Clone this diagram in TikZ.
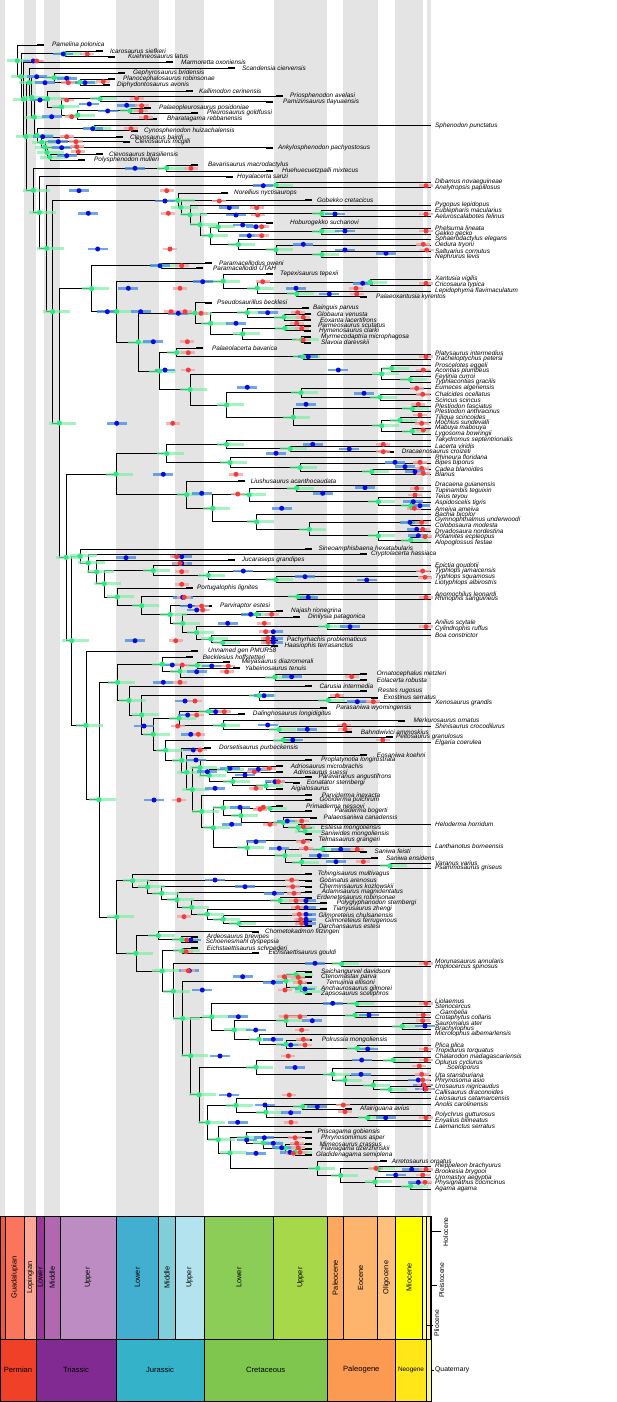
\documentclass[tikz,border=0pt]{standalone}
\usepackage{fontspec}
\setmainfont{Liberation Sans}
\usetikzlibrary{calc}
\definecolor{stripe}{HTML}{E4E4E4}
\definecolor{gdotc}{HTML}{2EE884}
\definecolor{gbarc}{HTML}{7DF0A6}
\definecolor{bdotc}{HTML}{0A0ADC}
\definecolor{bbarc}{HTML}{4A90E2}
\definecolor{rdotc}{HTML}{F23C3C}
\definecolor{rbarc}{HTML}{F5A3A3}
\definecolor{cisu}{HTML}{EF5845}
\definecolor{guad}{HTML}{FB745C}
\definecolor{loping}{HTML}{FBA794}
\definecolor{trL}{HTML}{983999}
\definecolor{trM}{HTML}{B168B1}
\definecolor{trU}{HTML}{BD8CC3}
\definecolor{juL}{HTML}{42AED0}
\definecolor{juM}{HTML}{80CFD8}
\definecolor{juU}{HTML}{B3E3EE}
\definecolor{krL}{HTML}{8CCD57}
\definecolor{krU}{HTML}{A6D84A}
\definecolor{paleoc}{HTML}{FDA75F}
\definecolor{eoc}{HTML}{FDB46C}
\definecolor{olig}{HTML}{FEC07A}
\definecolor{mioc}{HTML}{FFFF00}
\definecolor{plioc}{HTML}{FFFF99}
\definecolor{pleist}{HTML}{FFF2AE}
\definecolor{holo}{HTML}{FEF2E0}
\definecolor{perm}{HTML}{F04028}
\definecolor{tria}{HTML}{812B92}
\definecolor{jura}{HTML}{34B2C9}
\definecolor{creta}{HTML}{7FC64E}
\definecolor{paleog}{HTML}{FD9A52}
\definecolor{neog}{HTML}{FFE619}
\definecolor{quat}{HTML}{F9F97F}
\tikzset{
  br/.style={line width=0.75pt, black},
  fbar/.style={line width=2.2pt, black},
  lab/.style={anchor=west, inner sep=0pt, font=\fontsize{6.4}{7}\selectfont\itshape},
  gbar/.style={line width=3pt, gbarc, opacity=0.7},
  bbar/.style={line width=2.6pt, bbarc, opacity=0.8},
  rbar/.style={line width=2.6pt, rbarc, opacity=0.8},
  tsbox/.style={draw=black, line width=0.6pt},
  eplab/.style={rotate=90, inner sep=0pt, font=\fontsize{7.4}{8}\selectfont},
  perlab/.style={inner sep=0pt, font=\fontsize{7.6}{8}\selectfont},
  sidelab/.style={inner sep=0pt, font=\fontsize{6.8}{7}\selectfont}
}
\newcommand\ft[5]{\coordinate (t#1) at (#2,#3); \draw[fbar] (t#1) -- ++(-7,0); \node[lab] (L#1) at (#4,#3) {#5};}
\newcommand\et[3]{\coordinate (t#1) at (431,#2); \node[lab] (L#1) at (435,#2) {#3};}
\newcommand\etx[4]{\coordinate (t#1) at (431,#2); \node[lab] (L#1) at (#3,#2) {#4};}
\newcommand\nd[4]{\path let \p1=($(#3)!.5!(#4)$) in (#2pt,\y1) coordinate (n#1); \draw[br] (n#1) |- (#3); \draw[br] (n#1) |- (#4);}
\begin{document}
\begin{tikzpicture}[x=1pt,y=-1pt]
\useasboundingbox (0,0) rectangle (617,1402);
\fill[white] (0,0) rectangle (617,1402);
% background stripes
\foreach \xa/\xb in {0/5, 24.3/36, 44.3/60, 116/158.7, 175.3/204, 273.7/327.3, 343.3/377.7, 395.3/422.7, 426.7/431}
  {\fill[stripe] (\xa,0) rectangle (\xb,1216);}
% tips
\ft{1}{44}{45}{52}{Pamelina polonica}
\ft{2}{103}{51}{110}{Icarosaurus siefkeri}
\ft{3}{115}{56.7}{128}{Kuehneosaurus latus}
\ft{4}{172.7}{62}{181}{Marmoretta oxoniensis}
\ft{5}{235}{68}{242}{Scandensia ciervensis}
\ft{6}{125}{73.3}{133}{Gephyrosaurus bridensis}
\ft{7}{115}{79.3}{123}{Planocephalosaurus robinsonae}
\ft{8}{110}{85}{117}{Diphydontosaurus avonis}
\ft{9}{192.7}{91}{199}{Kallimodon cerinensis}
\ft{10}{283}{96}{290}{Priosphenodon avelasi}
\ft{11}{273}{101.7}{283}{Pamizinsaurus tlayuaensis}
\ft{12}{151}{108.3}{159}{Palaeopleurosaurus posidoniae}
\ft{13}{198}{113.3}{207}{Pleurosaurus goldfussi}
\ft{14}{157}{119.3}{167}{Bharatagama rebbanensis}
\et{15}{125.7}{Sphenodon punctatus}
\ft{16}{137.7}{130.7}{144}{Cynosphenodon huizachalensis}
\ft{17}{123}{137.3}{130}{Clevosaurus bairdi}
\ft{18}{130}{141.7}{135}{Clevosaurus mcgilli}
\ft{19}{273}{147.7}{278}{Ankylosphenodon pachyostosus}
\ft{20}{103}{154.3}{109}{Clevosaurus brasiliensis}
\ft{21}{85}{160}{94}{Polysphenodon mulleri}
\ft{22}{198}{165}{208}{Bavarisaurus macrodactylus}
\ft{23}{273}{171}{282}{Huehuecuetzpalli mixtecus}
\ft{24}{233}{176.7}{237}{Hoyalacerta sanzi}
\et{25}{182.3}{Dibamus novaeguineae}
\et{26}{187.7}{Anelytropsis papillosus}
\ft{27}{228}{193.3}{234}{Norellius nyctisaurops}
\ft{28}{312}{200}{317}{Gobekko cretacicus}
\et{29}{205}{Pygopus lepidopus}
\et{30}{210.7}{Eublepharis macularius}
\et{31}{216.7}{Aeluroscalabotes felinus}
\ft{32}{273}{222.7}{290}{Hoburogekko suchanovi}
\et{33}{228.3}{Phelsuma lineata}
\et{34}{234}{Gekko gecko}
\et{35}{239.3}{Sphaerodactylus elegans}
\et{36}{245}{Oedura tryoni}
\et{37}{251.7}{Saltuarius cornutus}
\et{38}{257.3}{Nephrurus levis}
\ft{39}{211.7}{263.3}{219}{Paramacellodus oweni}
\ft{40}{203.3}{268.3}{213}{Paramacellodid UTAH}
\ft{41}{273}{274}{280}{Tepexisaurus tepexii}
\et{42}{279.3}{Xantusia vigilis}
\et{43}{285}{Cricosaura typica}
\et{44}{291}{Lepidophyma flavimaculatum}
\ft{45}{366.7}{296.7}{376}{Palaeoxantusia kyrentos}
\ft{46}{211.7}{302.7}{217}{Pseudosaurillus becklesi}
\ft{47}{309}{308.3}{313}{Bainguis parvus}
\ft{48}{311}{314}{317}{Globaura venusta}
\ft{49}{311}{320}{320}{Eoxanta lacertifrons}
\ft{50}{311}{325.7}{318}{Parmeosaurus scutatus}
\ft{51}{311}{330.7}{319}{Hymenosaurus clarki}
\ft{52}{311}{336.7}{321}{Myrmecodaptria microphagosa}
\ft{53}{311}{342.7}{321}{Slavoia darevskii}
\ft{54}{203.3}{348.3}{212}{Palaeolacerta bavarica}
\et{55}{354.3}{Platysaurus intermedius}
\et{56}{359.3}{Tracheloptychus petersi}
\et{57}{365.7}{Proscelotes eggeli}
\et{58}{371}{Acontias plumbeus}
\et{59}{376.7}{Feylinia curroi}
\et{60}{382.3}{Typhlacontias gracilis}
\et{61}{388.3}{Eumeces algeriensis}
\et{62}{394.3}{Chalcides ocellatus}
\et{63}{400}{Scincus scincus}
\et{64}{406}{Plestiodon fasciatus}
\et{65}{411.7}{Plestiodon anthracinus}
\et{66}{417.7}{Tiliqua scincoides}
\et{67}{422.7}{Mochlus sundevalli}
\et{68}{428.3}{Mabuya mabouya}
\et{69}{434}{Lygosoma bowringii}
\et{70}{440}{Takydromus septentrionalis}
\et{71}{446}{Lacerta viridis}
\ft{72}{394.3}{451.7}{401.7}{Dracaenosaurus croizeti}
\et{73}{457.7}{Rhineura floridana}
\et{74}{463.3}{Bipes biporus}
\et{75}{469}{Cadea blanoides}
\et{76}{474.3}{Blanus}
\ft{77}{245}{481}{250.7}{Liushusaurus acanthocaudata}
\et{78}{485}{Dracaena guianensis}
\et{79}{491}{Tupinambis teguixin}
\et{80}{497.3}{Teius teyou}
\et{81}{502.7}{Aspidoscelis tigris}
\et{82}{509}{Ameiva ameiva}
\et{83}{514.3}{Bachia bicolor}
\et{84}{520}{Gymnophthalmus underwoodi}
\et{85}{525.7}{Colobosaura modesta}
\et{86}{531.7}{Dryadosaura nordestina}
\et{87}{537.3}{Potamites ecpleopus}
\et{88}{542.7}{Alopoglossus festae}
\ft{89}{311.7}{549}{318.3}{Sineoamphisbaena hexatabularis}
\ft{90}{366.7}{554}{371}{Cryptolacerta hassiaca}
\ft{91}{235}{560}{241.7}{Jucaraseps grandipes}
\et{92}{565.7}{Epictia goudotii}
\et{93}{571}{Typhlops jamaicensis}
\et{94}{576.7}{Typhlops squamosus}
\et{95}{582.7}{Liotyphlops albirostris}
\ft{96}{192.7}{588.3}{197}{Portugalophis lignites}
\et{97}{594.3}{Anomochilus leonardi}
\et{98}{599.3}{Rhinophis sanguineus}
\ft{99}{211.7}{605.7}{220}{Parviraptor estesi}
\ft{100}{283}{611}{291}{Najash rionegrina}
\ft{101}{300}{617.3}{308}{Dinilysia patagonica}
\et{102}{623.3}{Anilius scytale}
\et{103}{629}{Cylindrophis ruffus}
\et{104}{635}{Boa constrictor}
\ft{105}{278.3}{640}{286.7}{Pachyrhachis problematicus}
\ft{106}{278.3}{645.7}{284.3}{Haasiophis terrasanctus}
\ft{107}{198.3}{651}{208}{Unnamed gen PMUR58}
\ft{108}{192.7}{657.3}{202.7}{Becklesius hoffstetteri}
\ft{109}{230}{662.3}{241.7}{Meyasaurus diazromerali}
\ft{110}{240}{668.3}{245}{Yabeinosaurus tenuis}
\ft{111}{366.7}{674}{376.7}{Ornatocephalus metzleri}
\ft{112}{366.7}{680}{376.7}{Eolacerta robusta}
\ft{113}{311.7}{686}{319.3}{Carusia intermedia}
\ft{114}{366.7}{691}{377.7}{Restes rugosus}
\ft{115}{378}{697.7}{383.3}{Exostinus serratus}
\et{116}{702.7}{Xenosaurus grandis}
\ft{117}{327.3}{708.3}{336}{Parasaniwa wyomingensis}
\ft{118}{245}{714.3}{252.7}{Dalinghosaurus longidigitus}
\ft{119}{405}{720.7}{413.3}{Merkurosaurus ornatus}
\et{120}{726.7}{Shinisaurus crocodilurus}
\ft{121}{351.7}{732.3}{360.7}{Bahndwivici ammoskius}
\ft{122}{393}{737.3}{396}{Peltosaurus granulosus}
\et{123}{742.7}{Elgaria coerulea}
\ft{124}{210.7}{748.3}{219}{Dorsetisaurus purbeckensis}
\ft{125}{366.7}{755}{376.7}{Eosaniwa koehni}
\ft{126}{311.7}{760}{321}{Proplatynotia longirostrata}
\ft{127}{283}{766}{290.7}{Adriosaurus microbrachis}
\ft{128}{283}{772.3}{293.3}{Adriosaurus suessi}
\ft{129}{311.7}{777.3}{318.3}{Paravaranus angustifrons}
\ft{130}{300}{782.7}{306.7}{Eonatator sternbergi}
\ft{131}{283}{789}{291}{Aigialosaurus}
\ft{132}{311.7}{795}{321.7}{Parviderma inexacta}
\ft{133}{311.7}{800}{319.3}{Gobiderma pulchrum}
\ft{134}{283}{806}{306}{Primaderma nessovi}
\ft{135}{311.7}{811}{334.3}{Paraderma bogerti}
\ft{136}{316.7}{817.7}{323.3}{Palaeosaniwa canadensis}
\et{137}{824}{Heloderma horridum}
\ft{138}{311.7}{828.3}{320.7}{Estesia mongoliensis}
\ft{139}{311.7}{834}{320.7}{Saniwides mongoliensis}
\ft{140}{311.7}{840}{318.3}{Telmasaurus grangeri}
\et{141}{846.7}{Lanthanotus borneensis}
\ft{142}{366.7}{851.7}{374.3}{Saniwa feisti}
\ft{143}{378.3}{858.3}{386}{Saniwa ensidens}
\et{144}{863.3}{Varanus varius}
\et{145}{868.3}{Psammosaurus griseus}
\ft{146}{311.7}{874.3}{317.7}{Tchingisaurus multivagus}
\ft{147}{311.7}{880.7}{319.3}{Gobinatus arenosus}
\ft{148}{311.7}{886.7}{319.3}{Cherminsaurus kozlowskii}
\ft{149}{311.7}{892.3}{321.7}{Adamisaurus magnidentatus}
\ft{150}{311.7}{897.7}{316.7}{Erdenetesaurus robinsonae}
\ft{151}{327.3}{903.3}{336.7}{Polyglyphanodon sternbergi}
\ft{152}{327.3}{909}{332.7}{Tianyusaurus zhengi}
\ft{153}{311.7}{915}{318.3}{Gilmoreteius chulsanensis}
\ft{154}{311.7}{921}{325}{Gilmoreteius ferrugenous}
\ft{155}{311.7}{926}{318.3}{Darchansaurus estesi}
\ft{156}{259.3}{931.7}{265}{Chometokadmon fitzingeri}
\ft{157}{198.3}{936.7}{206.7}{Ardeosaurus brevipes}
\ft{158}{198.3}{942.3}{205.7}{Schoenesmahl dyspepsia}
\ft{159}{198.3}{948.3}{206.7}{Eichstaettisaurus schroederi}
\ft{160}{259.3}{953.3}{268.3}{Eichstaettisaurus gouldi}
\et{161}{961}{Morunasaurus annularis}
\et{162}{966.7}{Hoplocercus spinosus}
\ft{163}{311.7}{971.7}{321}{Saichangurvel davidsoni}
\ft{164}{311.7}{977.3}{321}{Ctenomastax parva}
\ft{165}{311.7}{983.3}{326}{Temujinia ellisoni}
\ft{166}{311.7}{989}{321}{Anchaurosaurus gilmorei}
\ft{167}{311.7}{994.3}{321}{Zapsosaurus sceliphros}
\et{168}{1001}{Liolaemus}
\et{169}{1006.7}{Stenocercus}
\etx{170}{1012.3}{440}{Gambelia}
\et{171}{1017.7}{Crotaphytus collaris}
\et{172}{1023.3}{Sauromalus ater}
\et{173}{1029}{Brachylophus}
\et{174}{1034.3}{Microlophus albemarlensis}
\ft{175}{311.7}{1040}{321.7}{Polrussia mongoliensis}
\et{176}{1045.7}{Plica plica}
\et{177}{1051}{Tropidurus torquatus}
\et{178}{1057.3}{Chalarodon madagascariensis}
\et{179}{1062.7}{Oplurus cyclurus}
\etx{180}{1068.3}{447}{Sceloporus}
\et{181}{1075}{Uta stansburiana}
\et{182}{1080.7}{Phrynosoma asio}
\et{183}{1086.7}{Urosaurus nigricaudus}
\et{184}{1092.3}{Callisaurus draconoides}
\et{185}{1098.3}{Leiosaurus catamarcensis}
\et{186}{1104}{Anolis carolinensis}
\ft{187}{351.7}{1109}{360}{Afairiguana avius}
\et{188}{1115}{Polychrus gutturosus}
\et{189}{1120.7}{Enyalius bilineatus}
\et{190}{1126.7}{Laemanctus serratus}
\ft{191}{311.7}{1132.3}{317.3}{Priscagama gobiensis}
\ft{192}{311.7}{1137.7}{321}{Phrynosomimus asper}
\ft{193}{311.7}{1144}{319.3}{Mimeosaurus crassus}
\ft{194}{311.7}{1149.3}{321}{Flaviagama dzerzhinskii}
\ft{195}{311.7}{1155}{316}{Gladidenagama semiplena}
\ft{196}{386.7}{1161}{391.7}{Arretosaurus ornatus}
\et{197}{1166}{Rieppeleon brachyurus}
\et{198}{1171.7}{Brookesia brygooi}
\et{199}{1177.7}{Uromastyx aegyptia}
\et{200}{1183.3}{Physignathus cocincinus}
\et{201}{1189}{Agama agama}
% internal nodes
\nd{1}{65}{t2}{t3}
\nd{2}{80}{t7}{t8}
\nd{3}{54.3}{t6}{n2}
\nd{4}{100}{t10}{t11}
\nd{5}{130}{t12}{t13}
\nd{6}{77.7}{n5}{t14}
\nd{7}{61.7}{n4}{n6}
\nd{8}{47.7}{t9}{n7}
\nd{9}{94.3}{t15}{t16}
\nd{10}{50}{t20}{t21}
\nd{11}{47}{t19}{n10}
\nd{12}{45}{t18}{n11}
\nd{13}{41.7}{t17}{n12}
\nd{14}{37}{n9}{n13}
\nd{15}{34.3}{n8}{n14}
\nd{16}{31.7}{n3}{n15}
\nd{17}{29.3}{t5}{n16}
\nd{18}{166.7}{t22}{t23}
\nd{19}{321.7}{t30}{t31}
\nd{20}{321.7}{t33}{t34}
\nd{21}{218.3}{t32}{n20}
\nd{22}{321.7}{t37}{t38}
\nd{23}{276}{t36}{n22}
\nd{24}{238.3}{t35}{n23}
\nd{25}{210.7}{n21}{n24}
\nd{26}{200}{n19}{n25}
\nd{27}{190}{t29}{n26}
\nd{28}{181}{t28}{n27}
\nd{29}{178}{t27}{n28}
\nd{30}{276}{t25}{t26}
\nd{31}{161}{t39}{t40}
\nd{32}{370}{t42}{t43}
\nd{33}{296.7}{t44}{t45}
\nd{34}{257.3}{n32}{n33}
\nd{35}{223.3}{t41}{n34}
\nd{36}{284}{t48}{t49}
\nd{37}{247.3}{t47}{n36}
\nd{38}{285}{t50}{t51}
\nd{39}{301.7}{t52}{t53}
\nd{40}{242.7}{n38}{n39}
\nd{41}{210.7}{n37}{n40}
\nd{42}{195}{t46}{n41}
\nd{43}{303.3}{t55}{t56}
\nd{44}{176.7}{t54}{n43}
\nd{45}{391.7}{t57}{t58}
\nd{46}{410}{t59}{t60}
\nd{47}{381.7}{n45}{n46}
\nd{48}{380}{t62}{t63}
\nd{49}{301}{t61}{n48}
\nd{50}{412.3}{t64}{t65}
\nd{51}{400}{t66}{t67}
\nd{52}{412.3}{t68}{t69}
\nd{53}{381.7}{n51}{n52}
\nd{54}{293.3}{n50}{n53}
\nd{55}{226.7}{n49}{n54}
\nd{56}{190}{n47}{n55}
\nd{57}{159.3}{n44}{n56}
\nd{58}{138.3}{n42}{n57}
\nd{59}{116.7}{n35}{n58}
\nd{60}{91.7}{n31}{n59}
\nd{61}{290}{t71}{t72}
\nd{62}{226.7}{t70}{n61}
\nd{63}{371.7}{t75}{t76}
\nd{64}{300}{t74}{n63}
\nd{65}{230}{t73}{n64}
\nd{66}{166.7}{n62}{n65}
\nd{67}{296.7}{t78}{t79}
\nd{68}{410.7}{t81}{t82}
\nd{69}{378.3}{t80}{n68}
\nd{70}{249.3}{n67}{n69}
\nd{71}{410.7}{t84}{t85}
\nd{72}{410.7}{t87}{t88}
\nd{73}{378.3}{t86}{n72}
\nd{74}{309.3}{n71}{n73}
\nd{75}{256.7}{t83}{n74}
\nd{76}{212.7}{n70}{n75}
\nd{77}{186.7}{t77}{n76}
\nd{78}{116}{n66}{n77}
\nd{79}{276}{t94}{t95}
\nd{80}{208.3}{t93}{n79}
\nd{81}{153.3}{t92}{n80}
\nd{82}{297.7}{t97}{t98}
\nd{83}{256.7}{t100}{t101}
\nd{84}{327.7}{t102}{t103}
\nd{85}{222.7}{t105}{t106}
\nd{86}{211}{t104}{n85}
\nd{87}{196.7}{n84}{n86}
\nd{88}{182.7}{n83}{n87}
\nd{89}{170}{t99}{n88}
\nd{90}{141.7}{n82}{n89}
\nd{91}{117.3}{t96}{n90}
\nd{92}{104.3}{n81}{n91}
\nd{93}{96.7}{t91}{n92}
\nd{94}{88.3}{t90}{n93}
\nd{95}{80}{t89}{n94}
\nd{96}{197.3}{t109}{t110}
\nd{97}{275}{t111}{t112}
\nd{98}{180}{n96}{n97}
\nd{99}{162.3}{t108}{n98}
\nd{100}{328.3}{t115}{t116}
\nd{101}{259.3}{t114}{n100}
\nd{102}{209}{t117}{t118}
\nd{103}{279}{t120}{t121}
\nd{104}{223.3}{t119}{n103}
\nd{105}{179}{n102}{n104}
\nd{106}{283.3}{t122}{t123}
\nd{107}{227.3}{t127}{t128}
\nd{108}{266}{t130}{t131}
\nd{109}{232.7}{t129}{n108}
\nd{110}{209.3}{n107}{n109}
\nd{111}{200}{t126}{n110}
\nd{112}{270}{t134}{t135}
\nd{113}{305}{t138}{t139}
\nd{114}{298.3}{t137}{n113}
\nd{115}{283.3}{t136}{n114}
\nd{116}{241}{n112}{n115}
\nd{117}{223.3}{t133}{n116}
\nd{118}{390}{t144}{t145}
\nd{119}{301.7}{t143}{n118}
\nd{120}{322.7}{t141}{t142}
\nd{121}{285}{n120}{n119}
\nd{122}{247.3}{t140}{n121}
\nd{123}{213.3}{n117}{n122}
\nd{124}{201.7}{t132}{n123}
\nd{125}{192.3}{n111}{n124}
\nd{126}{186.7}{t125}{n125}
\nd{127}{181.7}{t124}{n126}
\nd{128}{165.7}{n106}{n127}
\nd{129}{153.3}{n105}{n128}
\nd{130}{141.7}{n101}{n129}
\nd{131}{129}{t113}{n130}
\nd{132}{117.7}{n99}{n131}
\nd{133}{239}{t154}{t155}
\nd{134}{223.3}{t153}{n133}
\nd{135}{207.3}{t152}{n134}
\nd{136}{280}{t150}{t151}
\nd{137}{191.7}{n136}{n135}
\nd{138}{177}{t149}{n137}
\nd{139}{161.7}{t148}{n138}
\nd{140}{147.7}{t147}{n139}
\nd{141}{132.7}{t146}{n140}
\nd{142}{181.7}{t157}{t158}
\nd{143}{158.3}{t156}{n142}
\nd{144}{182.7}{t159}{t160}
\nd{145}{341.7}{t161}{t162}
\nd{146}{296}{t163}{t164}
\nd{147}{305}{t166}{t167}
\nd{148}{300}{t165}{n147}
\nd{149}{286}{n146}{n148}
\nd{150}{356.7}{t168}{t169}
\nd{151}{355}{t170}{t171}
\nd{152}{402.3}{t172}{t173}
\nd{153}{286}{n151}{n152}
\nd{154}{357.3}{t176}{t177}
\nd{155}{286}{t175}{n154}
\nd{156}{259}{t174}{n155}
\nd{157}{234.3}{n153}{n156}
\nd{158}{211.7}{n150}{n157}
\nd{159}{393.3}{t178}{t179}
\nd{160}{390}{t183}{t184}
\nd{161}{373.3}{t182}{n160}
\nd{162}{345}{t181}{n161}
\nd{163}{332.7}{t180}{n162}
\nd{164}{256}{n159}{n163}
\nd{165}{302.7}{t186}{t187}
\nd{166}{367.7}{t188}{t189}
\nd{167}{266}{n165}{n166}
\nd{168}{236}{t185}{n167}
\nd{169}{295}{t194}{t195}
\nd{170}{285}{t193}{n169}
\nd{171}{263.3}{t192}{n170}
\nd{172}{246.7}{t191}{n171}
\nd{173}{378.3}{t197}{t198}
\nd{174}{410.7}{t200}{t201}
\nd{175}{375}{t199}{n174}
\nd{176}{340.7}{n173}{n175}
\nd{177}{317.7}{t196}{n176}
\nd{178}{230}{n172}{n177}
\nd{179}{218.3}{t190}{n178}
\nd{180}{207.7}{n168}{n179}
\nd{181}{199}{n164}{n180}
\nd{182}{190.7}{n158}{n181}
\nd{183}{182.7}{n149}{n182}
\nd{184}{173.3}{n145}{n183}
\nd{185}{162.3}{n144}{n184}
\nd{186}{136}{n143}{n185}
\nd{187}{116.7}{n141}{n186}
\nd{188}{99}{n132}{n187}
\nd{189}{86}{t107}{n188}
\nd{190}{71.7}{n95}{n189}
\nd{191}{66}{n78}{n190}
\nd{192}{59.3}{n60}{n191}
\nd{193}{52.7}{n29}{n192}
\nd{194}{46.7}{n30}{n193}
\nd{195}{39.3}{t24}{n194}
\nd{196}{33.3}{n18}{n195}
\nd{197}{26}{n17}{n196}
\nd{198}{23.3}{t4}{n197}
\nd{199}{21}{n1}{n198}
\nd{200}{17.3}{t1}{n199}
% node age bars
\foreach \i in {1,...,200} {\draw[gbar] ([xshift=-10pt]n\i) -- ([xshift=17pt]n\i);}
% alternative ages (blue, red)
\def\bluelist{63.3/54, 33.3/61, 36.7/76.7, 66.7/78.3, 45/82.7, 85/82.7, 40/100, 51.7/116.7, 89.3/104, 107.7/111, 126.7/105.3, 92.7/128.7, 42.7/136.7, 58.3/141.7, 61.7/147.7,
66.7/155.7, 135/168.3, 79/190.7, 88.3/213.3, 97.7/249, 263.3/185.7, 165/201, 229.3/207.7, 236/215, 335/214, 242.7/225, 256/226.7, 249.3/235.7, 345/231, 303.3/244.3, 345/250, 386/253.3,
160/265.7, 202.7/281.7, 128.3/288.3, 362.7/283.3, 296/288.3, 329.3/294, 107.3/311.7, 140.7/311.7, 178.3/313.3, 267.7/312.7, 236/323.3, 153.3/341.7, 308.3/356.7, 165/370, 338.3/370,
247.3/387.3, 364/393.3, 306/404.3, 116.7/423.3, 312.7/444.3, 349.3/449, 276/453.3, 163.3/474.3, 395/462.3, 405/466.7, 415/471.7, 322.7/493.3, 365/487.7, 201.7/493.3,
413.3/501.7, 420/505.7, 281.7/508.3, 410/522.3, 416.7/529.3, 418.3/535.7, 126/557.7, 181.7/556.7, 181.7/563.3, 243.3/571, 305/576.7, 366.7/580, 182.7/597.3, 308.3/597.3, 190/606,
196.7/610, 250.7/614.3, 227.7/623.3, 350/626.7, 273.3/631.7, 273.3/638.3, 273.3/642.3, 135/640.7, 172.3/665, 211.7/666, 196.7/671.7, 291.7/676.7, 163.3/682.3, 264/695.7, 357.3/701.7, 185/701, 215.7/711.7, 187.7/715,
144/726, 267.7/725, 307.3/729.3, 190.7/734.3, 292.7/740, 193.3/750, 196/760, 207.3/771.7, 230/768.3, 258.3/769.3, 245/775, 275/781.7, 215/788.3, 154/800, 240/807.3, 231.7/824.3, 287.3/821,
256/841.7, 279.3/848.3, 340.7/849.3, 319.3/855.7, 336/861.7, 215/880, 245/886.7, 274.3/893.3, 306/900.7, 306/907.7, 306/914.3, 306/919.3, 306/923.3, 191/940,
315/963.3, 242.7/976.7, 273.3/982.3, 305/989, 202.3/990, 189.3/970.7, 332.7/1003.3, 369/1015, 238.3/1016.7, 312.3/1020.7, 425/1026, 255.7/1030, 273.3/1039.3, 290.7/1045, 367.7/1049, 220/1056, 361.7/1060, 295/1067.5,
361/1074.3, 418.3/1080, 423.3/1085, 425/1089, 229.3/1095, 265/1105, 317.3/1106.7, 290.7/1112.7, 385.7/1117.7, 237.7/1122.3, 246.7/1140, 264.3/1137.7, 273.3/1143.3, 281.7/1147.7, 290/1152.3, 256/1153.3, 411.7/1169.3, 395.7/1175, 418.3/1182.3}
\def\redlist{87.3/54, 36.7/61, 68.3/82.7, 103.3/81.7, 66.7/100, 71.7/116.7, 136.7/98.3, 141.7/105.7, 141/111, 146/117.3, 131/128.7, 66.7/136.7, 76/141.7, 76.7/146.7, 78.3/151.7,
191/168.3, 166.7/190.7, 168.3/213.3, 170/249, 426/185.7, 219.3/201, 256.7/207.7, 257.7/215, 426/214, 261.7/226.7, 261.7/235.7, 426/231, 423.3/244.3, 426.7/250,
181.7/265.7, 180/288.3, 262.7/281.7, 426/283.3, 356/288.3, 356.7/294, 171/311.7, 185/311.7, 201/313.3, 297.7/312.7, 303.3/317.3, 296.7/323.3, 301.7/328.3, 303.3/340, 187.3/341.7, 188.3/352.7, 426/356.7, 188.3/370, 423.3/370,
172.7/423.3, 383.3/444.3, 383.3/451.7, 236/474.3, 420/462.3, 421.7/468.3, 423.3/473.3, 237.7/494, 416.7/388.3, 422.7/394.3, 418.3/404.3, 420/415, 421.7/423.3, 423.3/430, 416.7/488.3,
415/495, 414.3/508.3, 421.7/522.3, 422.7/529.3, 425/536.7, 176.7/556.7, 180/563.3, 181.7/571.7, 181.7/584.3, 422.7/571, 425/577.3, 184.3/597.3, 426/597.3, 201.7/606,
202.7/610, 271.7/614.3, 264.3/623.3, 426/626.7, 265.7/631.7, 267.7/638.3, 268.3/642.3, 175.7/640.7, 182.3/665, 228.3/666, 226.7/671.7, 351.7/676.7, 180/682.3, 337.3/695.7, 373.3/701.7, 195/701, 224.3/711.7, 196.7/715,
177.7/726, 344.3/725, 345/729.3, 198.3/734.3, 382.7/740, 200/750, 254.3/771.7, 269.3/768.3, 278.3/781.7, 256/788.3, 179/800, 260/809.3, 263.3/807.3, 270/824.3, 301.7/821, 303.3/826.7,
303.3/841.7, 306/848.3, 357.3/849.3, 363.3/861.7, 291.7/880, 292.7/886.7, 294/893.3, 296/900.7, 297.7/907.7, 299.3/914.3, 300.7/919.3, 301.7/923.3, 184/916.7, 186.7/940, 186/951.7,
426/963.3, 284.3/976.7, 298.3/977.3, 300/982.3, 285/990, 188.3/970.7, 426/1003.3, 286/1016.7, 300/1016.7, 423.3/1015, 422.7/1020.7, 301.7/1030, 303.3/1039.3, 305/1045, 426/1049, 288.3/1056, 426/1060, 419.3/1066,
421.7/1074.3, 422.7/1080, 424/1085, 426/1089, 289.3/1095, 343.3/1105, 345/1111.7, 426/1117.7, 291/1122.3, 295/1137.7, 296.7/1143.3, 298.3/1147.7, 300/1152.3, 293.3/1153.3, 376/1168.3, 426/1169.3, 422.7/1175, 425/1182.3}
\foreach \px/\py in \bluelist {\draw[bbar] (\px-10,\py) -- (\px+10,\py);}
\foreach \px/\py in \redlist {\draw[rbar] (\px-7,\py) -- (\px+7,\py);}
\foreach \i in {1,...,200} {\fill[gdotc] (n\i) circle (2.6pt);}
\foreach \px/\py in \bluelist {\fill[bdotc] (\px,\py) circle (2.5pt);}
\foreach \px/\py in \redlist {\fill[rdotc] (\px,\py) circle (2.5pt);}
% timescale: epochs
\draw[tsbox, fill=cisu] (0,1216) rectangle (5,1339.3);
\foreach \xa/\xb/\col/\txt [count=\k] in {5/24.3/guad/Guadalupian, 24.3/36/loping/Lopingian, 36/44.3/trL/Lower, 44.3/60/trM/Middle, 60/116/trU/Upper, 116/158.7/juL/Lower, 158.7/175.3/juM/Middle, 175.3/204/juU/Upper, 204/273.7/krL/Lower, 273.7/327.3/krU/Upper, 327.3/343.3/paleoc/Paleocene, 343.3/377.7/eoc/Eocene, 377.7/395.3/olig/Oligocene, 395.3/422.7/mioc/Miocene}
 {\draw[tsbox, fill=\col] (\xa,1216) rectangle (\xb,1339.3);
  \node[eplab] (ep\k) at ({(\xa+\xb)/2},1277.5) {\txt};}
\draw[tsbox, fill=plioc] (422.7,1216) rectangle (426.7,1339.3);
\draw[tsbox, fill=pleist] (426.7,1216) rectangle (430,1339.3);
\draw[tsbox, fill=holo] (430,1216) rectangle (431,1339.3);
% periods
\foreach \xa/\xb/\col/\txt [count=\k] in {0/36/perm/Permian, 36/116/tria/Triassic, 116/204/jura/Jurassic, 204/327.3/creta/Cretaceous, 327.3/395.3/paleog/Paleogene}
 {\draw[tsbox, fill=\col] (\xa,1339.3) rectangle (\xb,1401);
  \node[perlab] (per\k) at ({(\xa+\xb)/2},1370) {\txt};}
\draw[tsbox, fill=neog] (395.3,1339.3) rectangle (426.7,1401);
\node[inner sep=0pt, font=\fontsize{6.4}{7}\selectfont] (perN) at (411,1370) {Neogene};
\draw[tsbox, fill=quat] (426.7,1339.3) rectangle (431,1401);
\draw[dashed, line width=1.2pt] (0.6,1216) -- (0.6,1401);
% right-hand labels
\coordinate (hk1) at (431,1231); \coordinate (hk2) at (441,1231);
\draw[line width=0.8pt] (hk1) -- (hk2);
\node[sidelab, rotate=90] (holoL) at (445.7,1231.7) {Holocene};
\coordinate (pk1) at (430,1285); \coordinate (pk2) at (437,1285);
\draw[line width=0.8pt] (pk1) -- (pk2);
\node[sidelab, rotate=90] (pleiL) at (441.7,1280) {Pleistocene};
\coordinate (lk1) at (426,1325.7); \coordinate (lk2) at (433,1325.7);
\draw[line width=0.8pt] (lk1) -- (lk2);
\node[sidelab, rotate=90] (plioL) at (436.7,1323) {Pliocene};
\coordinate (qk1) at (431,1370); \coordinate (qk2) at (434,1370);
\draw[line width=0.8pt] (qk1) -- (qk2);
\node[sidelab, anchor=west] (quatL) at (435,1370) {Quaternary};
\end{tikzpicture}
\end{document}
